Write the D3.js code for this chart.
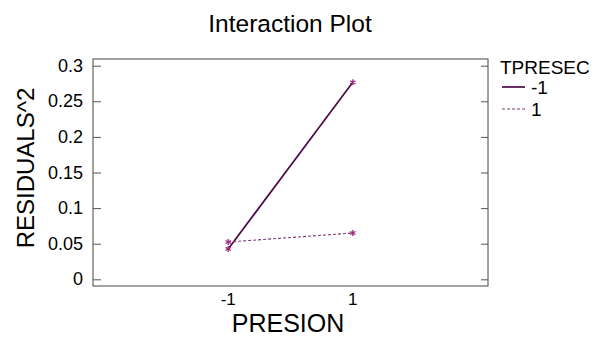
<!DOCTYPE html>
<html>
<head>
<meta charset="utf-8">
<script src="https://cdn.jsdelivr.net/npm/d3@7"></script>
<style>
  body { margin: 0; background: #fff; }
  svg text { font-family: "Liberation Sans", Arial, sans-serif; fill: #000; }
</style>
</head>
<body>
<svg id="chart" width="602" height="344"></svg>
<script>
    var presion = [-1, 1];
    var seriesNames = ['-1', '1'];
    var seriesMinus = [0.0426, 0.2767];
    var seriesPlus = [0.0524, 0.0650];
    var yTicks = [0, 0.05, 0.1, 0.15, 0.2, 0.25, 0.3];

(function () {
    'use strict';

    var series = [
        { name: seriesNames[0], values: seriesMinus, dash: null, color: '#4e0a48', width: 1.7 },
        { name: seriesNames[1], values: seriesPlus, dash: '3,2', color: '#7a3a72', width: 1.1 }
    ];

    var plotLeft = 93, plotRight = 488, plotTop = 59, plotBottom = 286;
    var svg = d3.select('#chart');

    var x = d3.scaleLinear().domain([-3.17, 3.17]).range([plotLeft, plotRight]);
    var y = d3.scaleLinear().domain([-0.0094, 0.3094]).range([plotBottom, plotTop]);

    // frame
    svg.append('rect')
        .attr('x', plotLeft).attr('y', plotTop)
        .attr('width', plotRight - plotLeft).attr('height', plotBottom - plotTop)
        .attr('fill', 'none').attr('stroke', '#444').attr('stroke-width', 1);

    // y ticks, left and right, pointing inward
    var yAxisL = svg.append('g')
        .attr('transform', 'translate(' + plotLeft + ',0)')
        .call(d3.axisRight(y).tickValues(yTicks).tickSize(8).tickFormat(''));
    yAxisL.select('.domain').remove();
    yAxisL.selectAll('line').attr('stroke', '#555');

    var yAxisR = svg.append('g')
        .attr('transform', 'translate(' + plotRight + ',0)')
        .call(d3.axisLeft(y).tickValues(yTicks).tickSize(7).tickFormat(''));
    yAxisR.select('.domain').remove();
    yAxisR.selectAll('line').attr('stroke', '#555');

    svg.selectAll('.ylab')
        .data(yTicks)
        .enter().append('text')
        .attr('class', 'ylab')
        .attr('x', 83)
        .attr('y', function (d) { return y(d) + 6; })
        .attr('text-anchor', 'end')
        .style('font-size', '18px')
        .text(function (d) { return d3.format('')(d); });

    svg.selectAll('.xlab')
        .data(presion)
        .enter().append('text')
        .attr('class', 'xlab')
        .attr('x', function (d) { return x(d); })
        .attr('y', 305)
        .attr('text-anchor', 'middle')
        .style('font-size', '17px')
        .text(function (d) { return d; });

    // lines
    var line = d3.line()
        .x(function (d, i) { return x(presion[i]); })
        .y(function (d) { return y(d); });

    series.forEach(function (s) {
        svg.append('path')
            .datum(s.values)
            .attr('d', line)
            .attr('fill', 'none')
            .attr('stroke', s.color)
            .attr('stroke-width', s.width)
            .attr('stroke-dasharray', s.dash);

        svg.selectAll(null)
            .data(s.values)
            .enter().append('path')
            .attr('transform', function (d, i) { return 'translate(' + x(presion[i]) + ',' + y(d) + ')'; })
            .attr('d', d3.symbol(d3.symbolAsterisk, 26))
            .attr('fill', 'none')
            .attr('stroke', '#9a2a80')
            .attr('stroke-width', 1.3);
    });

    // titles
    svg.append('text')
        .attr('x', 290).attr('y', 32)
        .attr('text-anchor', 'middle')
        .style('font-size', '24.5px')
        .text('Interaction Plot');

    svg.append('text')
        .attr('x', 288).attr('y', 332)
        .attr('text-anchor', 'middle')
        .style('font-size', '25px')
        .text('PRESION');

    svg.append('text')
        .attr('transform', 'translate(34,168) rotate(-90)')
        .attr('text-anchor', 'middle')
        .style('font-size', '24px')
        .text('RESIDUALS^2');

    // legend
    var legend = svg.append('g').attr('class', 'legend');
    legend.append('text')
        .attr('x', 500).attr('y', 74)
        .style('font-size', '19px')
        .text('TPRESEC');

    var item = legend.selectAll('.item')
        .data(series)
        .enter().append('g')
        .attr('class', 'item')
        .attr('transform', function (d, i) { return 'translate(502,' + (87 + i * 22) + ')'; });

    item.append('line')
        .attr('x1', 0).attr('x2', 23)
        .attr('stroke', function (d) { return d.color; })
        .attr('stroke-width', function (d) { return d.width; })
        .attr('stroke-dasharray', function (d) { return d.dash; });

    item.append('text')
        .attr('x', 29).attr('y', 7)
        .style('font-size', '19px')
        .text(function (d) { return d.name; });
})();
</script>
</body>
</html>
